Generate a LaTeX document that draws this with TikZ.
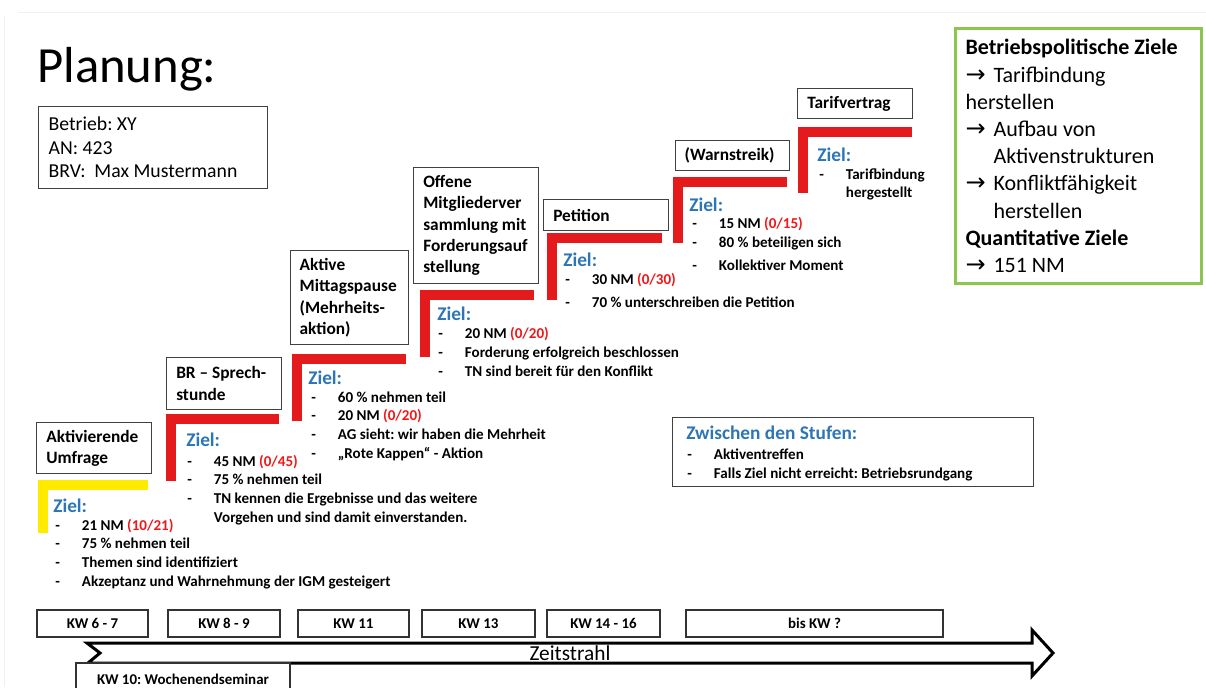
\documentclass[tikz,border=0pt]{standalone}
\usepackage{fontspec}
\setmainfont{Carlito}
\newfontfamily\pfeilfont{DejaVu Sans}
\usepackage{tikz}

\definecolor{rot}{RGB}{228,26,28}
\definecolor{rottext}{RGB}{240,24,24}
\definecolor{gelb}{RGB}{255,235,0}
\definecolor{blau}{RGB}{46,117,182}
\definecolor{gruen}{RGB}{140,198,80}

\frenchspacing
\hyphenpenalty=10000
\newcommand{\nm}[1]{\textcolor{rottext}{#1}}
\newcommand{\strich}{\makebox[20pt][l]{-}}
\newcommand{\pfeil}{\makebox[21pt][l]{\pfeilfont\fontsize{18}{20}\selectfont →}}

\begin{document}
\begin{tikzpicture}[x=0.75pt,y=-0.75pt]
\tikzstyle{kasten}=[draw=black!75,line width=0.9pt,anchor=north west,inner sep=0pt]
\tikzstyle{titel}=[anchor=west,align=flush left,inner sep=0pt,font=\fontsize{13}{16}\selectfont\bfseries]
\tikzstyle{ziel}=[anchor=base west,inner sep=0pt,text=blau,font=\fontsize{14.5}{17}\selectfont\bfseries]
\tikzstyle{liste}=[anchor=base west,align=flush left,inner sep=0pt,font=\fontsize{11.3}{14}\selectfont\bfseries]
\tikzstyle{stufe}=[draw=rot,line width=7.5pt]
\tikzstyle{kw}=[draw=black!80,line width=0.9pt,minimum height=20.25pt,inner sep=0pt,font=\fontsize{11.2}{12}\selectfont\bfseries]
\clip (0,0) rectangle (1206,687);
\draw[black!6,line width=0.75pt] (18,12) -- (1206,12);
\draw[black!6,line width=0.75pt] (4,16) -- (4,687);

% Kopf
\node[anchor=base west,inner sep=0pt,font=\fontsize{38}{40}\selectfont] (planung) at (37,82) {Planung:};
\node[kasten,minimum width=171.75pt,minimum height=61.5pt,text width=156.75pt,inner xsep=7.5pt,align=flush left,
  font=\fontsize{14.8}{17.6}\selectfont] (betrieb) at (38,106)
  {Betrieb: XY\\AN: 423\\BRV:\ \ Max Mustermann};

% Stufe 1 (Basislinie der letzten Zeile)
\draw[stufe,draw=gelb] (42.5,533) |- (148,484.5);
\node[kasten,minimum width=86.25pt,minimum height=38.25pt] (umfrage) at (36,422) {};
\node[titel] (umfragetxt) at ([xshift=7.5pt]umfrage.west) {Aktivierende\\Umfrage};
\node[ziel] (ziel1) at (53,512) {Ziel:};
\node[liste] (liste1) at (55,586) {\strich 21 NM \nm{(10/21)}\\\strich 75 \% nehmen teil\\
  \strich Themen sind identifiziert\\\strich Akzeptanz und Wahrnehmung der IGM gesteigert};

% Stufe 2
\draw[stufe] (170.5,481) |- (279,419);
\node[kasten,minimum width=86.25pt,minimum height=39pt] (sprech) at (166,357) {};
\node[titel] (sprechtxt) at ([xshift=7.5pt]sprech.west) {BR – Sprech-\\stunde};
\node[ziel] (ziel2) at (186,446) {Ziel:};
\node[liste] (liste2) at (187,522) {\strich 45 NM \nm{(0/45)}\\\strich 75 \% nehmen teil\\
  \strich TN kennen die Ergebnisse und das weitere\\\hspace*{20pt}Vorgehen und sind damit einverstanden.};

% Stufe 3
\draw[stufe] (296.5,421) |- (406,359);
\node[kasten,minimum width=88.5pt,minimum height=70.5pt] (mittag) at (290,250) {};
\node[titel] (mittagtxt) at ([xshift=7pt]mittag.west) {Aktive\\Mittagspause\\(Mehrheits-\\aktion)};
\node[ziel] (ziel3) at (308,384) {Ziel:};
\node[liste] (liste3) at (311,458) {\strich 60 \% nehmen teil\\\strich 20 NM \nm{(0/20)}\\
  \strich AG sieht: wir haben die Mehrheit\\\strich „Rote Kappen“ - Aktion};

% Stufe 4
\draw[stufe] (425,357) |- (534,295);
\node[kasten,minimum width=93.75pt,minimum height=87pt] (mv) at (413,167) {};
\node[titel] (mvtxt) at ([xshift=7.5pt]mv.west) {Offene\\Mitgliederver\\sammlung mit\\Forderungsauf\\stellung};
\node[ziel] (ziel4) at (437,320) {Ziel:};
\node[liste] (liste4) at (438,376) {\strich 20 NM \nm{(0/20)}\\\strich Forderung erfolgreich beschlossen\\
  \strich TN sind bereit für den Konflikt};

% Stufe 5
\draw[stufe] (552,300) |- (662,238);
\node[kasten,minimum width=93.75pt,minimum height=23.25pt] (petition) at (543,199) {};
\node[titel] (petitiontxt) at ([xshift=7.5pt]petition.west) {Petition};
\node[ziel] (ziel5) at (563,266) {Ziel:};
\node[liste] (liste5) at (565,307.7) {\strich 30 NM \nm{(0/30)}\\[3.25pt]\strich 70 \% unterschreiben die Petition};

% Stufe 6
\draw[stufe] (678,243) |- (787,182);
\node[kasten,minimum width=85.5pt,minimum height=22.5pt] (warnstreik) at (675,140) {};
\node[titel] (warnstreiktxt) at ([xshift=7pt]warnstreik.west) {(Warnstreik)};
\node[ziel] (ziel6) at (689,211) {Ziel:};
\node[liste] (liste6) at (692,270) {\strich 15 NM \nm{(0/15)}\\\strich 80 \% beteiligen sich\\[3pt]
  \strich Kollektiver Moment};

% Stufe 7
\draw[stufe] (803,193) |- (912,132);
\node[kasten,minimum width=86.25pt,minimum height=22.5pt] (tarif) at (797,88) {};
\node[titel] (tariftxt) at ([xshift=7.5pt]tarif.west) {Tarifvertrag};
\node[ziel] (ziel7) at (817,161) {Ziel:};
\node[liste,font=\fontsize{11.3}{13.5}\selectfont\bfseries] (liste7) at (819,197.7) {\strich Tarifbindung\\\hspace*{20pt}hergestellt};

% Ziele rechts
\node[kasten,draw=gruen,line width=2.25pt,minimum width=184.5pt,minimum height=191.25pt,
  text width=169.5pt,inner xsep=7.5pt,align=flush left,font=\fontsize{16.5}{20.4}\selectfont] (ziele) at (954,27)
  {\textbf{Betriebspolitische Ziele}\\\pfeil Tarifbindung\\herstellen\\\pfeil Aufbau von\\
   \hspace*{21pt}Aktivenstrukturen\\\pfeil Konfliktfähigkeit\\\hspace*{21pt}herstellen\\
   \textbf{Quantitative Ziele}\\\pfeil 151 NM};

% Zwischen den Stufen
\node[kasten,minimum width=270.75pt,minimum height=51.75pt] (zwischen) at (672,417) {};
\node[ziel] (zwischentitel) at (686,439) {Zwischen den Stufen:};
\node[liste,font=\fontsize{11.3}{14.25}\selectfont\bfseries] (zwischenliste) at (687,478.7)
  {\strich Aktiventreffen\\\strich Falls Ziel nicht erreicht: Betriebsrundgang};

% Zeitstrahl
\draw[line width=2.25pt,fill=white,line join=miter] (87,643) -- (1032,643) -- (1032,630) -- (1053,653)
  -- (1032,676) -- (1032,663) -- (88,663) -- (100,653) -- cycle;
\node[font=\fontsize{16}{18}\selectfont,inner sep=0pt] (zeitstrahl) at (570,653) {Zeitstrahl};
\node[kw,minimum width=83.25pt] (kw1) at (92.5,623.5) {KW 6 - 7};
\node[kw,minimum width=84pt] (kw2) at (224,623.5) {KW 8 - 9};
\node[kw,minimum width=83.25pt] (kw3) at (353.5,623.5) {KW 11};
\node[kw,minimum width=84.75pt] (kw4) at (478.5,623.5) {KW 13};
\node[kw,minimum width=84.75pt] (kw5) at (603.5,623.5) {KW 14 - 16};
\node[kw,minimum width=192.75pt] (kw6) at (814.5,623.5) {bis KW ?};
\node[kw,fill=white,minimum width=160.5pt,minimum height=24pt] (seminar) at (183,679) {KW 10: Wochenendseminar};
\end{tikzpicture}
\end{document}
